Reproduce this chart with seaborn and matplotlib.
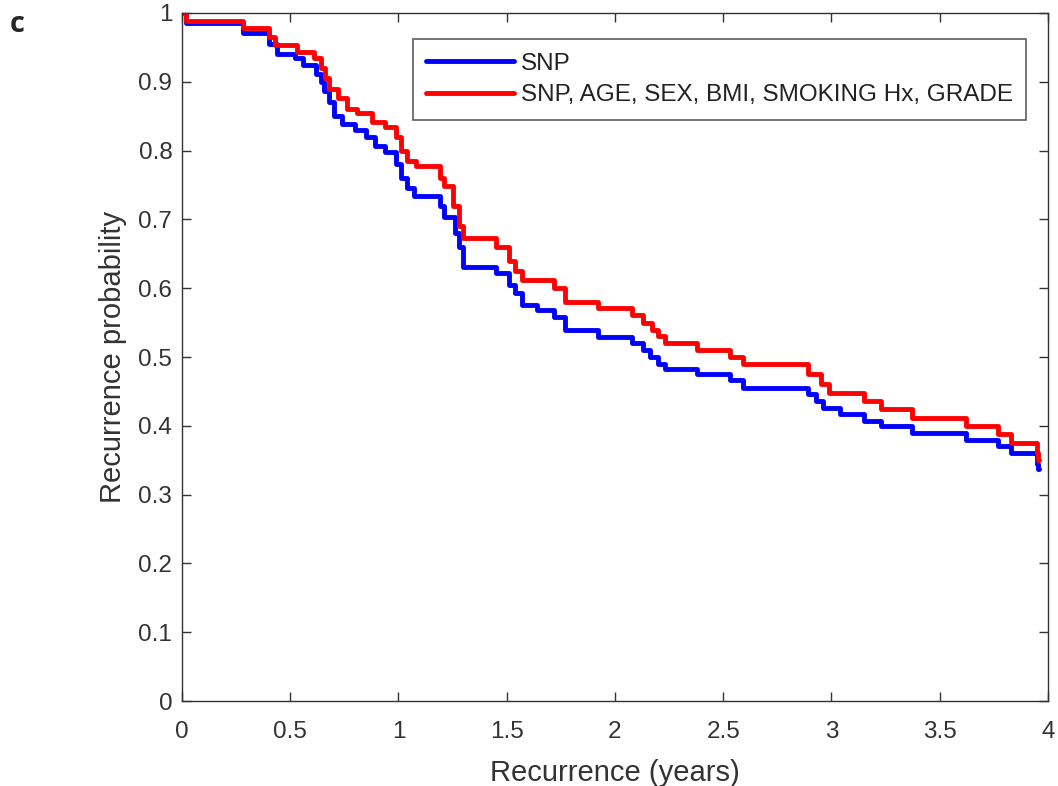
import numpy as np
import pandas as pd
import matplotlib
matplotlib.use("Agg")
import matplotlib.pyplot as plt
import seaborn as sns

# step curves (time in years, recurrence probability)
snp_t = [0, 0.02, 0.28, 0.40, 0.44, 0.52, 0.56, 0.62, 0.64, 0.655, 0.68, 0.70, 0.74, 0.80,
         0.85, 0.89, 0.94, 0.99, 1.01, 1.04, 1.07, 1.19, 1.21, 1.26, 1.28, 1.30, 1.45, 1.51,
         1.54, 1.57, 1.64, 1.72, 1.77, 1.92, 2.08, 2.13, 2.16, 2.20, 2.23, 2.38, 2.53, 2.59,
         2.89, 2.93, 2.96, 3.04, 3.15, 3.23, 3.37, 3.62, 3.77, 3.83, 3.95, 3.955, 3.96]
snp_p = [1.0, 0.985, 0.971, 0.955, 0.941, 0.934, 0.924, 0.912, 0.90, 0.886, 0.87, 0.851, 0.839, 0.83,
         0.82, 0.807, 0.798, 0.78, 0.76, 0.745, 0.734, 0.72, 0.704, 0.68, 0.66, 0.631, 0.622, 0.605,
         0.593, 0.575, 0.568, 0.558, 0.539, 0.529, 0.52, 0.51, 0.50, 0.49, 0.483, 0.476, 0.466, 0.455,
         0.446, 0.436, 0.426, 0.417, 0.407, 0.40, 0.39, 0.38, 0.37, 0.36, 0.345, 0.338, 0.338]

full_t = [0, 0.02, 0.28, 0.40, 0.43, 0.53, 0.61, 0.64, 0.66, 0.68, 0.72, 0.76, 0.81, 0.88,
          0.94, 0.99, 1.01, 1.04, 1.08, 1.19, 1.21, 1.25, 1.28, 1.30, 1.45, 1.51, 1.54, 1.57,
          1.72, 1.77, 1.92, 2.08, 2.13, 2.17, 2.20, 2.23, 2.38, 2.53, 2.59, 2.89, 2.95, 2.99,
          3.15, 3.23, 3.37, 3.62, 3.77, 3.83, 3.95, 3.955, 3.96]
full_p = [1.0, 0.988, 0.978, 0.965, 0.953, 0.944, 0.934, 0.92, 0.905, 0.89, 0.876, 0.861, 0.854, 0.842,
          0.835, 0.82, 0.80, 0.785, 0.777, 0.76, 0.748, 0.72, 0.69, 0.673, 0.66, 0.64, 0.625, 0.612,
          0.60, 0.58, 0.571, 0.561, 0.55, 0.54, 0.53, 0.52, 0.51, 0.50, 0.49, 0.476, 0.461, 0.448,
          0.436, 0.425, 0.412, 0.40, 0.388, 0.375, 0.36, 0.35, 0.35]

labels = ["SNP", "SNP, AGE, SEX, BMI, SMOKING Hx, GRADE"]
colors = ["#0000ff", "#ff0000"]
xticks = ["0", "0.5", "1", "1.5", "2", "2.5", "3", "3.5", "4"]
yticks = ["0", "0.1", "0.2", "0.3", "0.4", "0.5", "0.6", "0.7", "0.8", "0.9", "1"]

df = pd.concat([
    pd.DataFrame({"t": snp_t, "p": snp_p, "model": labels[0]}),
    pd.DataFrame({"t": full_t, "p": full_p, "model": labels[1]}),
])

sns.set_style("white")
plt.rcParams['font.family'] = ['Liberation Sans', 'DejaVu Sans']

fig = plt.figure(figsize=(10.58, 7.86), dpi=100)
ax = fig.add_axes([0.172, 0.108, 0.8185, 0.8755])

sns.lineplot(data=df, x="t", y="p", hue="model", palette=colors, sort=False,
             drawstyle="steps-post", linewidth=3.5, estimator=None, ax=ax)

gray = "#333333"
ax.set_xlim(0, 4)
ax.set_ylim(0, 1)
ax.set_xticks(np.linspace(0, 4, 9))
ax.set_xticklabels(xticks)
ax.set_yticks(np.linspace(0, 1, 11))
ax.set_yticklabels(yticks)
ax.tick_params(direction="in", length=6.5, width=1, colors=gray, labelsize=17.5,
               top=True, right=True, bottom=True, left=True)
ax.tick_params(axis="x", pad=14)
ax.tick_params(axis="y", pad=7)
for s in ax.spines.values():
    s.set_color(gray)
    s.set_linewidth(1)
ax.set_xlabel("Recurrence (years)", fontsize=21, color=gray, labelpad=12)
ax.set_ylabel("Recurrence probability", fontsize=21, color=gray, labelpad=8)

leg = ax.legend(loc="upper right", bbox_to_anchor=(0.975, 0.962), fontsize=17.5,
                frameon=True, fancybox=False, handlelength=3.6, borderpad=0.55,
                labelspacing=0.4, handletextpad=0.3, borderaxespad=0)
leg.get_frame().set_edgecolor(gray)
leg.get_frame().set_linewidth(1.2)
for h in leg.get_lines():
    h.set_linewidth(3.5)
for t in leg.get_texts():
    t.set_color("#222222")

fig.text(0.016, 0.969, "c", fontsize=21, fontweight="bold", family="Open Sans",
         va="center", ha="center")

fig.savefig("out.png", dpi=100)
